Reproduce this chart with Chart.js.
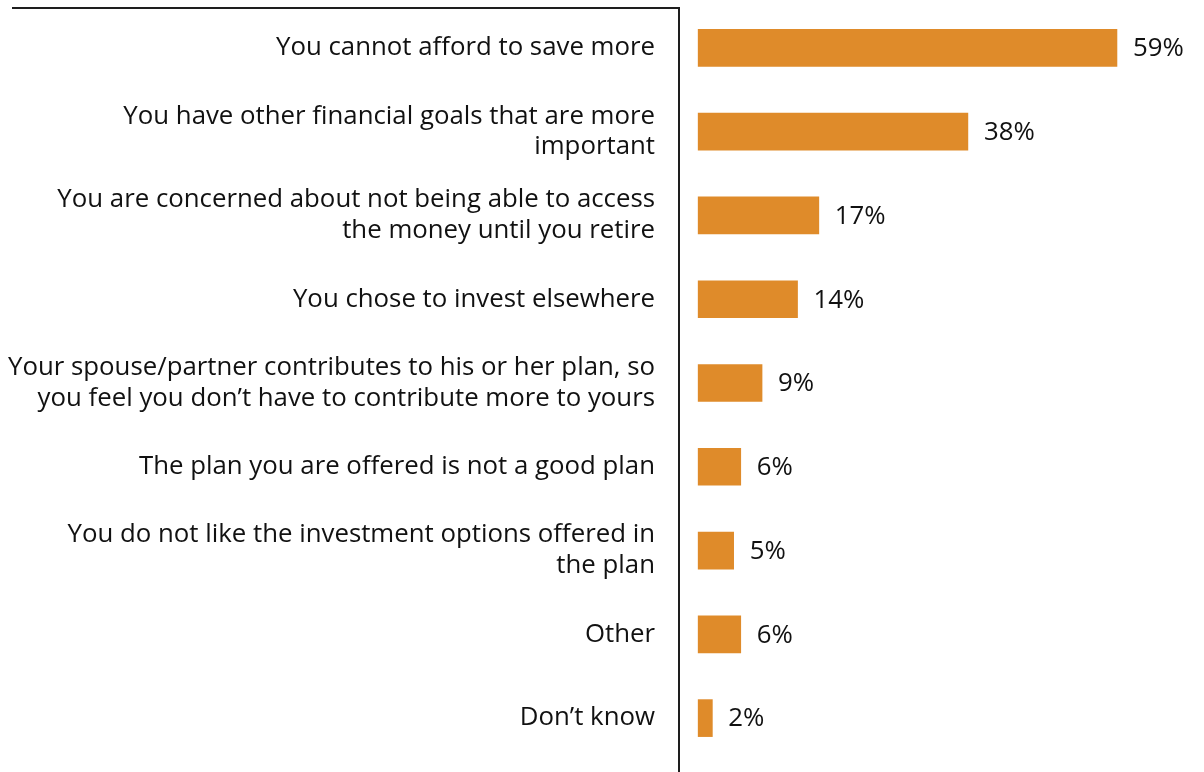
<!DOCTYPE html>
<html>
<head>
<meta charset="utf-8">
<script src="https://cdn.jsdelivr.net/npm/chart.js@4"></script>
<style>
  html, body { margin: 0; padding: 0; background: #fff; }
  #wrap { width: 1204px; height: 772px; }
</style>
</head>
<body>
<div id="wrap"><canvas id="chart" width="1204" height="772"></canvas></div>
<script>
// reasons for not saving more in the plan (share of respondents)
const reasons = [
  ['You cannot afford to save more'],
  ['You have other financial goals that are more', 'important'],
  ['You are concerned about not being able to access', 'the money until you retire'],
  ['You chose to invest elsewhere'],
  ['Your spouse/partner contributes to his or her plan, so', 'you feel you don\u2019t have to contribute more to yours'],
  ['The plan you are offered is not a good plan'],
  ['You do not like the investment options offered in', 'the plan'],
  ['Other'],
  ['Don\u2019t know']
];
const shares = [59, 38, 17, 14, 9, 6, 5, 6, 2];

const FONT = '"Open Sans", "Noto Sans", sans-serif';
const FONT_SIZE = 25.8;
const BAR_COLOR = '#df8b2a';

// percent labels just past the end of each bar
const valueLabels = {
  id: 'valueLabels',
  afterDatasetsDraw(chart) {
    const ctx = chart.ctx;
    const meta = chart.getDatasetMeta(0);
    ctx.save();
    ctx.font = FONT_SIZE + 'px ' + FONT;
    ctx.fillStyle = '#111';
    ctx.textAlign = 'left';
    ctx.textBaseline = 'middle';
    meta.data.forEach((bar, i) => {
      ctx.fillText(shares[i] + '%', bar.x + 16, bar.y + 1);
    });
    ctx.restore();
  }
};

// top rule over the labels and the vertical divider
const frameLines = {
  id: 'frameLines',
  afterDraw(chart) {
    const ctx = chart.ctx;
    const x = chart.scales.y.right;
    ctx.save();
    ctx.strokeStyle = '#1e1e1e';
    ctx.lineWidth = 2;
    ctx.beginPath();
    ctx.moveTo(12, 8);
    ctx.lineTo(x, 8);
    ctx.moveTo(x, 7);
    ctx.lineTo(x, chart.height);
    ctx.stroke();
    ctx.restore();
  }
};

new Chart(document.getElementById('chart'), {
  type: 'bar',
  data: {
    labels: reasons,
    datasets: [{
      data: shares,
      backgroundColor: BAR_COLOR,
      borderWidth: 0,
      barThickness: 37
    }]
  },
  options: {
    indexAxis: 'y',
    responsive: false,
    animation: false,
    layout: { padding: { top: 6, bottom: 12, left: 0, right: 4 } },
    plugins: {
      legend: { display: false },
      tooltip: { enabled: false }
    },
    scales: {
      x: {
        display: false,
        min: -2.7,
        max: 70.7
      },
      y: {
        afterFit(scale) {
          scale.width = 679;
          scale.paddingTop = 0;
          scale.paddingBottom = 0;
        },
        grid: { display: false, drawTicks: false },
        border: { display: false },
        ticks: {
          padding: 24,
          color: '#111',
          font: { family: FONT, size: FONT_SIZE, lineHeight: 1.2 }
        }
      }
    }
  },
  plugins: [valueLabels, frameLines]
});
</script>
</body>
</html>
